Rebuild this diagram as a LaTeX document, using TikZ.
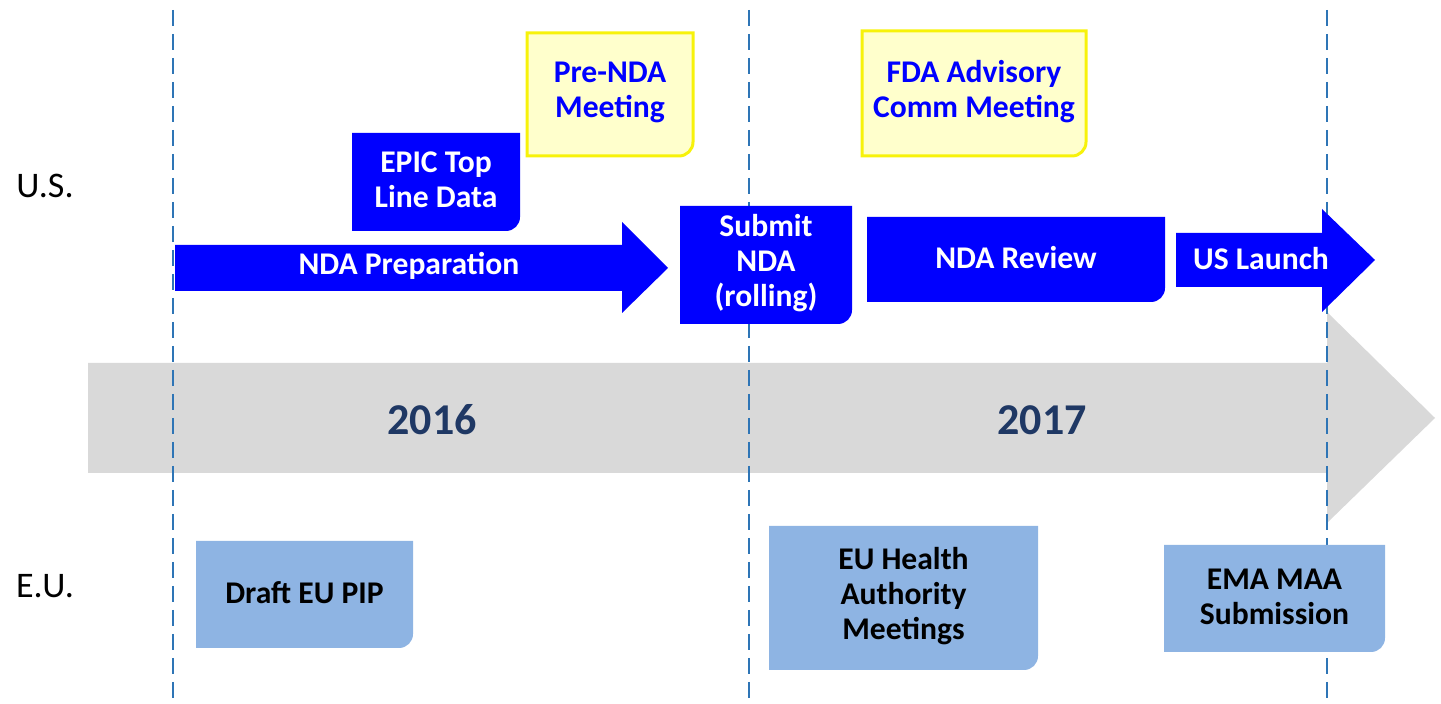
\documentclass[tikz,border=0pt]{standalone}
\usepackage{fontspec}
\setmainfont{Carlito}
\definecolor{usblue}{HTML}{0000FF}
\definecolor{eublue}{HTML}{8EB4E3}
\definecolor{yearnavy}{HTML}{1F3864}
\definecolor{dashblue}{HTML}{2E75B6}
\definecolor{notefill}{HTML}{FFFFCC}
\definecolor{noteline}{HTML}{F7F20A}
\definecolor{timegrey}{HTML}{D9D9D9}

% box with one rounded corner (bottom right), text node at its centre
\newcommand{\tabbox}[8]{%
  \filldraw[#2] (#4,#5) -- (#6,#5) -- ([yshift=7pt]#6,#7)
    arc[start angle=0,end angle=-90,radius=7pt] -- (#4,#7) -- cycle;
  \node[#3] (#1) at ({(#4+#6)/2},{(#5+#7)/2}) {#8};
}

\begin{document}
\begin{tikzpicture}[x=0.5pt,y=-0.5pt,
    boxtxt/.style={align=center, yshift=1pt, font=\bfseries\fontsize{15.8}{17.5}\selectfont},
    wtxt/.style={boxtxt, text=white},
    btxt/.style={boxtxt, text=usblue},
    ktxt/.style={boxtxt, text=black},
    usbox/.style={fill=usblue, draw=none},
    eubox/.style={fill=eublue, draw=none},
    notebox/.style={fill=notefill, draw=noteline, line width=1.5pt},
    region/.style={font=\fontsize{18}{22}\selectfont, text=black},
    year/.style={font=\bfseries\fontsize{22}{26}\selectfont, text=yearnavy}]
  \useasboundingbox (0,0) rectangle (1441,704);

  % time line
  \fill[timegrey] (88,363) -- (1327,363) -- (1327,312) -- (1435,418)
    -- (1327,523) -- (1327,473) -- (88,473) -- cycle;
  \node[year] (y2016) at (432,420) {2016};
  \node[year] (y2017) at (1042,420) {2017};

  \foreach \x in {173, 749, 1327}{
    \draw[dashblue, line width=1pt, dash pattern=on 8pt off 4pt] (\x,10) -- (\x,704);
  }

  \node[region] (us) at (45,186) {U.S.};
  \node[region] (eu) at (45,586) {E.U.};

  % U.S. track
  \fill[usblue] (175,245) -- (622,245) -- (622,222) -- (668,268)
    -- (622,313) -- (622,291) -- (175,291) -- cycle;
  \node[wtxt] (prep) at (409,268) {NDA Preparation};

  \tabbox{epic}{usbox}{wtxt}{352}{133}{520}{231}{EPIC Top\\Line Data}
  \tabbox{prenda}{notebox}{btxt}{527}{33}{693}{156}{Pre-NDA\\Meeting}
  \tabbox{submit}{usbox}{wtxt}{680}{206}{852}{324}{Submit\\NDA\\(rolling)}
  \tabbox{fda}{notebox}{btxt}{862}{31}{1086}{156}{FDA Advisory\\Comm Meeting}
  \tabbox{review}{usbox}{wtxt}{867}{217}{1165}{302}{NDA Review}

  \fill[usblue] (1176,233) -- (1322,233) -- (1322,209) -- (1375,260)
    -- (1322,312) -- (1322,287) -- (1176,287) -- cycle;
  \node[wtxt] (launch) at (1261,261) {US Launch};

  % E.U. track
  \tabbox{pip}{eubox}{ktxt}{196}{541}{413}{648}{Draft EU PIP}
  \tabbox{health}{eubox}{ktxt}{769}{526}{1038}{670}{EU Health\\Authority\\Meetings}
  \tabbox{maa}{eubox}{ktxt}{1164}{545}{1385}{652}{EMA MAA\\Submission}
\end{tikzpicture}
\end{document}
